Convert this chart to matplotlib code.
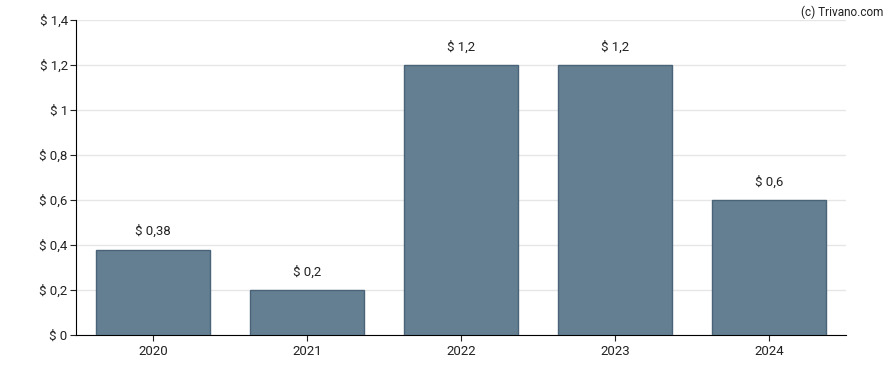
import matplotlib
matplotlib.use("Agg")
import matplotlib.pyplot as plt
from matplotlib.ticker import FuncFormatter

years = ["2020", "2021", "2022", "2023", "2024"]
values = [0.38, 0.2, 1.2, 1.2, 0.6]
labels = ["$ 0,38", "$ 0,2", "$ 1,2", "$ 1,2", "$ 0,6"]

plt.rcParams["font.family"] = ["Roboto", "DejaVu Sans"]
plt.rcParams["font.size"] = 9.5

fig = plt.figure(figsize=(8.88, 3.70), dpi=100)
ax = fig.add_axes([76 / 888, 35 / 370, 770 / 888, 315 / 370])

x = range(len(years))
ax.bar(x, values, width=0.74, color="#657f92", edgecolor="#4a6378", linewidth=1, zorder=3)
for xi, v, lab in zip(x, values, labels):
    ax.text(xi, v + 0.05, lab, ha="center", va="bottom", fontsize=9.5, color="#222222")

ax.set_xlim(-0.5, 4.5)
ax.set_ylim(0, 1.4)
ax.set_xticks(list(x))
ax.set_xticklabels(years)
ax.set_yticks([0, 0.2, 0.4, 0.6, 0.8, 1.0, 1.2, 1.4])
ax.yaxis.set_major_formatter(FuncFormatter(
    lambda v, p: "$ " + (f"{v:.1f}".rstrip("0").rstrip(".")).replace(".", ",")))
ax.grid(axis="y", color="#e6e6e6", linewidth=1, zorder=0)
ax.spines["top"].set_visible(False)
ax.spines["right"].set_visible(False)
ax.tick_params(axis="both", length=4, color="#222222", labelcolor="#222222")
ax.tick_params(axis="y", pad=2)

fig.text(0.995, 0.985, "(c) Trivano.com", ha="right", va="top", fontsize=8.5, color="#222222")

fig.savefig("out.png", dpi=100)
